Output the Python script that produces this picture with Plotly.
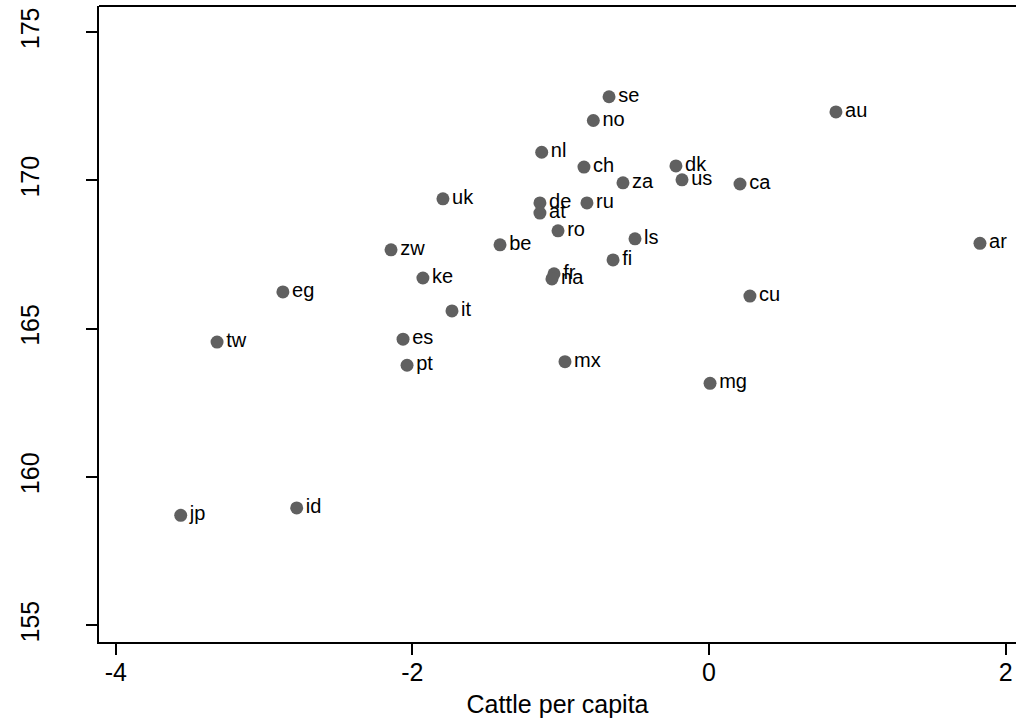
import plotly.graph_objects as go

countries = ["se", "no", "nl", "ch", "au", "dk", "us", "za", "ca", "uk", "de", "at",
             "ru", "ro", "ls", "zw", "be", "fi", "ke", "fr", "na", "eg", "it", "tw",
             "es", "pt", "ar", "cu", "mx", "mg", "jp", "id"]
cattle_per_capita = [-0.674, -0.78, -1.128, -0.843, 0.856, -0.223, -0.182, -0.58, 0.209,
                     -1.794, -1.14, -1.14, -0.823, -1.018, -0.499, -2.144, -1.409, -0.647,
                     -1.929, -1.045, -1.059, -2.873, -1.733, -3.317, -2.063, -2.036, 1.827,
                     0.276, -0.971, 0.007, -3.562, -2.78]
height = [172.82, 172.02, 170.95, 170.45, 172.31, 170.49, 170.02, 169.92, 169.88,
          169.38, 169.24, 168.90, 169.24, 168.30, 168.03, 167.66, 167.83, 167.32,
          166.71, 166.85, 166.68, 166.24, 165.60, 164.55, 164.65, 163.77, 167.88,
          166.10, 163.89, 163.16, 158.71, 158.96]

x_ticks = [-4, -2, 0, 2]
x_tick_labels = ["-4", "-2", "0", "2"]
y_ticks = [155, 160, 165, 170, 175]
y_tick_labels = ["155", "160", "165", "170", "175"]

FONT = "Liberation Sans, Arial, sans-serif"

fig = go.Figure(go.Scatter(
    x=cattle_per_capita, y=height, text=countries,
    mode="markers+text", textposition="middle right",
    marker=dict(size=13, color="#606060"),
    textfont=dict(family=FONT, size=20, color="black"),
    cliponaxis=False, hoverinfo="skip"))

fig.update_layout(
    width=1016, height=722,
    margin=dict(l=99, r=0, t=6, b=80, autoexpand=False),
    paper_bgcolor="white", plot_bgcolor="white",
    showlegend=False,
    font=dict(family=FONT, color="black"),
    shapes=[dict(type="line", xref="paper", yref="paper", x0=0, x1=1.02, y0=1, y1=1,
                 line=dict(color="black", width=2))],
)
fig.update_xaxes(
    range=[-4.113, 2.07], tickvals=x_ticks, ticktext=x_tick_labels,
    ticks="outside", ticklen=11, tickwidth=1.5, automargin=False,
    tickcolor="black", showline=True, linecolor="black", linewidth=2,
    showgrid=False, zeroline=False, tickfont=dict(size=25, family=FONT),
    ticklabelstandoff=-4,
    title=dict(text="Cattle per capita", font=dict(size=25, family=FONT), standoff=10))
fig.update_yaxes(
    range=[154.44, 175.88], tickvals=y_ticks, ticktext=y_tick_labels,
    ticks="outside", ticklen=11, tickwidth=1.5, automargin=False,
    tickcolor="black", showline=True, linecolor="black", linewidth=2,
    showgrid=False, zeroline=False, tickangle=-90, ticklabelstandoff=37,
    tickfont=dict(size=25, family=FONT))

fig.write_html(
    "out.html",
    config={"displayModeBar": False},
    post_script="document.body.style.margin='0';document.body.style.overflow='hidden';",
)
